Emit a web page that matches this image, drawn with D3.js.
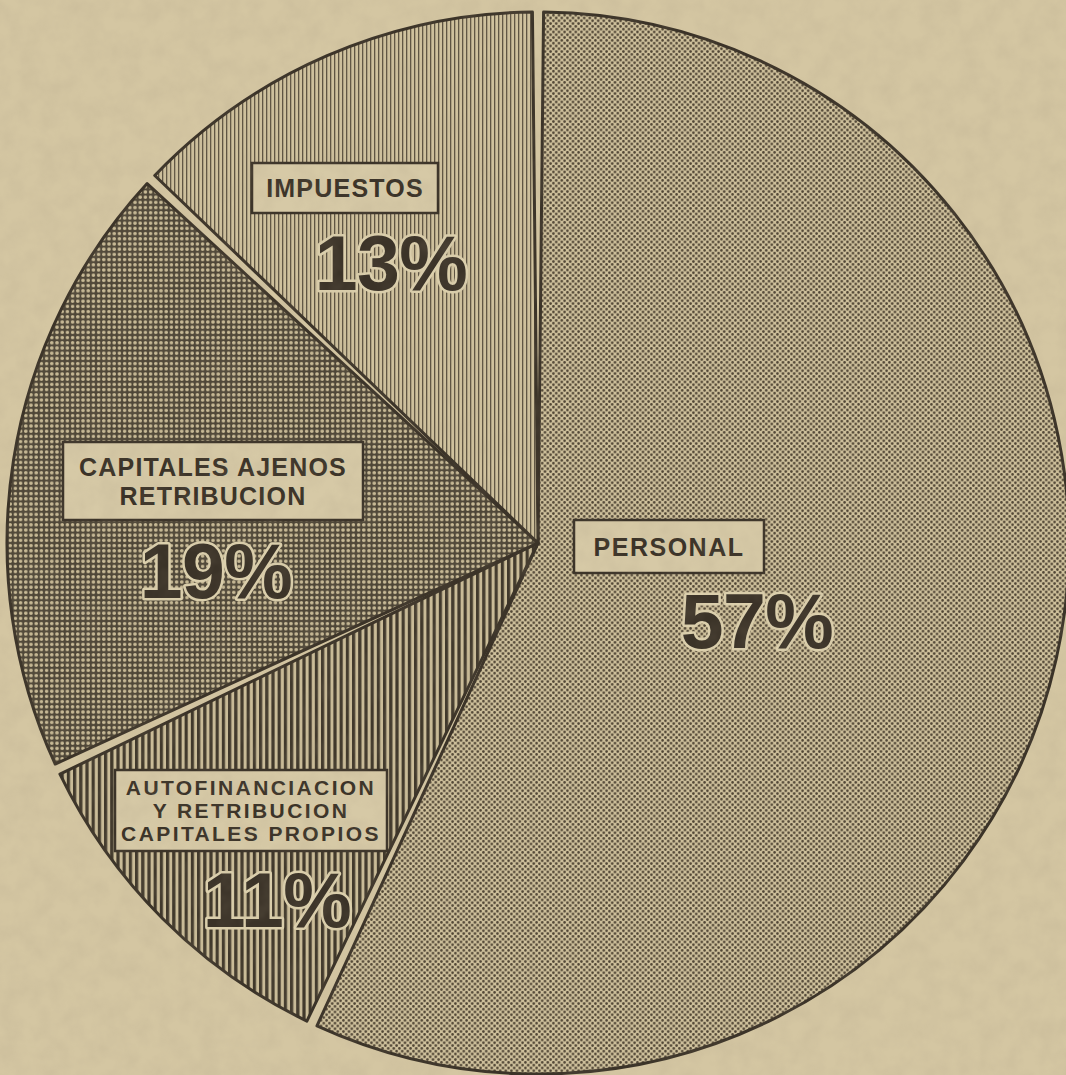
<!DOCTYPE html>
<html>
<head>
<meta charset="utf-8">
<script src="https://cdn.jsdelivr.net/npm/d3@7"></script>
<style>
  body { margin: 0; background: #d4c6a2; }
  svg { display: block; }
  text { font-family: "Liberation Sans", Arial, sans-serif; font-weight: bold; }
</style>
</head>
<body>
<script>
// Distribution of value added (newspaper pie chart)
var categories = ["PERSONAL", "AUTOFINANCIACION", "CAPITALES AJENOS", "IMPUESTOS"];
var values = [57, 11, 19, 13];
var labelLines = [
  ["PERSONAL"],
  ["AUTOFINANCIACION", "Y RETRIBUCION", "CAPITALES PROPIOS"],
  ["CAPITALES AJENOS", "RETRIBUCION"],
  ["IMPUESTOS"]
];

// Label boxes and percentage positions
var layout = [
  {box: [574, 520, 190, 53], fs: 25, ls: 1.5, lh: 29, pct: [757, 648]},
  {box: [115, 770, 272, 81], fs: 21, ls: 2.4, lh: 23, pct: [277, 927]},
  {box: [63, 442, 300, 78], fs: 25, ls: 1.2, lh: 29, pct: [216, 598]},
  {box: [252, 163, 186, 50], fs: 25, ls: 1.2, lh: 29, pct: [391, 290]}
];

var width = 1066, height = 1075;
var cx = 538, cy = 543, radius = 531;
var ink = "#3b3328", paper = "#d6c9a6";

var svg = d3.select("body").append("svg")
    .attr("width", width)
    .attr("height", height);

var defs = svg.append("defs");

// paper grain
var grain = defs.append("filter").attr("id", "grain")
    .attr("x", 0).attr("y", 0).attr("width", "100%").attr("height", "100%");
grain.append("feTurbulence").attr("type", "fractalNoise")
    .attr("baseFrequency", 0.05).attr("numOctaves", 3).attr("seed", 7);
grain.append("feColorMatrix").attr("type", "matrix")
    .attr("values", "0 0 0 0 0.35  0 0 0 0 0.29  0 0 0 0 0.2  0 0 0 -1.1 0.75");

// ---- halftone patterns ----
// fine dots (personal)
var p0 = defs.append("pattern").attr("id", "pat0")
    .attr("width", 5.6).attr("height", 5.6).attr("patternUnits", "userSpaceOnUse");
p0.append("rect").attr("width", 5.6).attr("height", 5.6).attr("fill", "#cfc19c");
p0.append("circle").attr("cx", 1.4).attr("cy", 1.4).attr("r", 1.3).attr("fill", "#4d4232");
p0.append("circle").attr("cx", 4.2).attr("cy", 4.2).attr("r", 1.3).attr("fill", "#4d4232");

// thick vertical lines (autofinanciacion)
var p1 = defs.append("pattern").attr("id", "pat1")
    .attr("width", 6.2).attr("height", 10).attr("patternUnits", "userSpaceOnUse");
p1.append("rect").attr("width", 6.2).attr("height", 10).attr("fill", "#cbbd99");
p1.append("rect").attr("x", 0).attr("width", 3.2).attr("height", 10).attr("fill", "#40382b");

// dark field with light holes (capitales ajenos)
var p2 = defs.append("pattern").attr("id", "pat2")
    .attr("width", 5.2).attr("height", 5.2).attr("patternUnits", "userSpaceOnUse");
p2.append("rect").attr("width", 5.2).attr("height", 5.2).attr("fill", "#4e4637");
p2.append("circle").attr("cx", 2.6).attr("cy", 2.6).attr("r", 1.8).attr("fill", "#c9bb97");

// fine vertical lines (impuestos)
var p3 = defs.append("pattern").attr("id", "pat3")
    .attr("width", 4).attr("height", 10).attr("patternUnits", "userSpaceOnUse");
p3.append("rect").attr("width", 4).attr("height", 10).attr("fill", "#d0c29e");
p3.append("rect").attr("x", 0).attr("width", 1.3).attr("height", 10).attr("fill", "#5e5442");

svg.append("rect")
    .attr("width", width).attr("height", height)
    .attr("fill", "#d4c6a2");

// ---- pie ----
var pie = d3.pie().sort(null).value(function(d) { return d; });
var arcs = pie(values);

var arc = d3.arc()
    .innerRadius(0)
    .outerRadius(radius)
    .padAngle(0.021)
    .padRadius(radius);

var g = svg.append("g").attr("transform", "translate(" + cx + "," + cy + ")");

g.selectAll("path.slice")
    .data(arcs)
  .enter().append("path")
    .attr("class", "slice")
    .attr("d", arc)
    .attr("fill", function(d, i) { return "url(#pat" + i + ")"; })
    .attr("stroke", ink)
    .attr("stroke-width", 3)
    .attr("stroke-linejoin", "round");

// ---- labels ----
arcs.forEach(function(d, i) {
  var L = layout[i];
  var b = L.box;
  var lg = svg.append("g");
  lg.append("rect")
      .attr("x", b[0]).attr("y", b[1])
      .attr("width", b[2]).attr("height", b[3])
      .attr("fill", paper)
      .attr("stroke", ink)
      .attr("stroke-width", 2.5);

  var lines = labelLines[i];
  var top = b[1] + b[3] / 2 - (lines.length - 1) * L.lh / 2;
  lines.forEach(function(t, j) {
    lg.append("text")
        .attr("x", b[0] + b[2] / 2)
        .attr("y", top + j * L.lh)
        .attr("dy", "0.36em")
        .attr("text-anchor", "middle")
        .attr("font-size", L.fs)
        .attr("letter-spacing", L.ls)
        .attr("fill", ink)
        .text(t);
  });

  svg.append("text")
      .attr("x", L.pct[0])
      .attr("y", L.pct[1])
      .attr("text-anchor", "middle")
      .attr("font-size", 77)
      .attr("letter-spacing", -0.5)
      .attr("fill", ink)
      .attr("stroke", "#dcd0ad")
      .attr("stroke-width", 5)
      .attr("paint-order", "stroke")
      .attr("stroke-linejoin", "round")
      .text(d.data + "%");
});

// grain over everything, like newsprint
svg.append("rect")
    .attr("width", width).attr("height", height)
    .attr("filter", "url(#grain)")
    .attr("opacity", 0.2)
    .style("pointer-events", "none");
</script>
</body>
</html>
